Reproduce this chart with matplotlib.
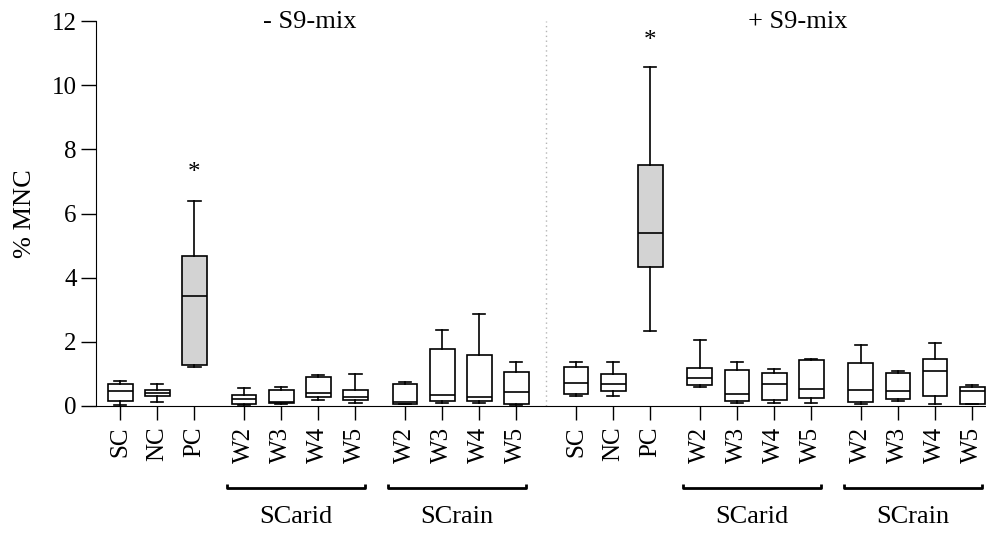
import matplotlib
matplotlib.use('Agg')
import matplotlib.pyplot as plt
import matplotlib.transforms as mtransforms

plt.rcParams['font.family'] = ['Liberation Serif', 'DejaVu Serif']

# box order: -S9 (SC, NC, PC, SCarid W2-W5, SCrain W2-W5), then +S9 the same
tick_labels = ['SC', 'NC', 'PC', 'W2', 'W3', 'W4', 'W5', 'W2', 'W3', 'W4', 'W5',
               'SC', 'NC', 'PC', 'W2', 'W3', 'W4', 'W5', 'W2', 'W3', 'W4', 'W5']
whis_lo = [0.02, 0.14, 1.22, 0.02, 0.07, 0.20, 0.09, 0.05, 0.10, 0.10, 0.03,
           0.30, 0.30, 2.35, 0.58, 0.09, 0.09, 0.09, 0.05, 0.15, 0.05, 0.05]
q1 = [0.16, 0.31, 1.29, 0.07, 0.09, 0.27, 0.18, 0.07, 0.16, 0.15, 0.07,
      0.37, 0.46, 4.33, 0.66, 0.15, 0.18, 0.24, 0.14, 0.23, 0.30, 0.07]
medians = [0.48, 0.40, 3.42, 0.23, 0.14, 0.40, 0.29, 0.14, 0.34, 0.29, 0.44,
           0.72, 0.69, 5.39, 0.86, 0.36, 0.69, 0.53, 0.50, 0.46, 1.08, 0.46]
q3 = [0.70, 0.51, 4.69, 0.33, 0.51, 0.89, 0.51, 0.69, 1.78, 1.58, 1.07,
      1.23, 1.00, 7.50, 1.17, 1.12, 1.02, 1.44, 1.34, 1.04, 1.45, 0.60]
whis_hi = [0.79, 0.70, 6.40, 0.56, 0.58, 0.96, 1.00, 0.76, 2.36, 2.87, 1.38,
           1.38, 1.38, 10.57, 2.06, 1.36, 1.16, 1.45, 1.90, 1.10, 1.97, 0.64]
group_sizes = [3, 4, 4]
half_titles = ['- S9-mix', '+ S9-mix']
bracket_labels = ['SCarid', 'SCrain']
star_values = [7.25, 11.38]

# x positions: small gap between groups, a bit more between the two halves
positions = []
x = 0.0
for half in range(2):
    for n in group_sizes:
        for i in range(n):
            positions.append(x)
            x += 1
        x += 0.34
    x += 0.27

fig = plt.figure(figsize=(9.87, 5.34), dpi=100)
ax = fig.add_axes([96 / 987, 1 - 406 / 534, 1 - 96 / 987, 385 / 534])

stats = []
for i in range(len(tick_labels)):
    stats.append({'whislo': whis_lo[i], 'q1': q1[i], 'med': medians[i],
                  'q3': q3[i], 'whishi': whis_hi[i], 'fliers': []})

bp = ax.bxp(stats, positions=positions, widths=0.67, patch_artist=True,
            showfliers=False,
            boxprops=dict(edgecolor='black', linewidth=1.2),
            medianprops=dict(color='black', linewidth=1.2),
            whiskerprops=dict(color='black', linewidth=1.2),
            capprops=dict(color='black', linewidth=1.2))
for i, box in enumerate(bp['boxes']):
    box.set_facecolor('#d3d3d3' if tick_labels[i] == 'PC' else 'white')

ax.set_xlim(-0.65, 23.37)
ax.set_ylim(0, 12)
ax.set_yticks(range(0, 13, 2))
ax.set_xticks(positions)
ax.set_xticklabels(tick_labels, rotation=90)
ax.tick_params(axis='x', length=10, width=1, pad=5, labelsize=18)
ax.tick_params(axis='y', length=11, width=1, pad=3, labelsize=18)
ax.spines['top'].set_visible(False)
ax.spines['right'].set_visible(False)
ax.set_ylabel('% MNC', fontsize=19, labelpad=11)

# dotted separator between the halves
n_half = sum(group_sizes)
sep = (positions[n_half - 1] + positions[n_half]) / 2
ax.plot([sep, sep], [0, 12], linestyle=(0, (1, 2.5)), color='#b5b5b5', lw=1)

# half titles, asterisks over PC, brackets under the sample groups
title_x = [5.1, 18.27]
trans = mtransforms.blended_transform_factory(ax.transData, ax.transAxes)
for h in range(2):
    ax.text(title_x[h], 11.97, half_titles[h], ha='center', va='center',
            fontsize=19, clip_on=False)
    pc = positions[h * n_half + 2]
    ax.text(pc, star_values[h], '*', ha='center', va='center', fontsize=18)
    for g in range(2):
        start = h * n_half + 3 + g * 4
        x0 = positions[start] - 0.45
        x1 = positions[start + 3] + 0.26
        yb = -0.212
        ax.plot([x0, x0, x1, x1], [yb + 0.01, yb, yb, yb + 0.01], color='black',
                lw=2, transform=trans, clip_on=False, solid_capstyle='butt')
        ax.text((x0 + x1) / 2, -0.288, bracket_labels[g], ha='center', va='center',
                fontsize=19, transform=trans)

fig.savefig('out.png', dpi=100)
